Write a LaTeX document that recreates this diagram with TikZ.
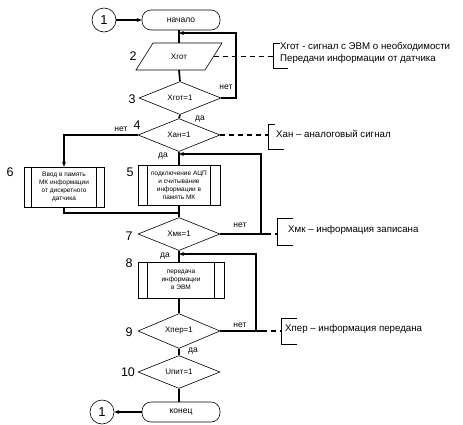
\documentclass[tikz,border=0pt]{standalone}
\usepackage{fontspec}
\setmainfont{Liberation Sans}
\usetikzlibrary{shapes.geometric,arrows.meta}
\begin{document}
\begin{tikzpicture}[x=1pt,y=-1pt,
  conn/.style={line width=1.7pt},
  arr/.style={conn,-{Stealth[length=5pt,width=4pt]}},
  dsh/.style={line width=1.3pt,dash pattern=on 5pt off 4pt},
  thin/.style={line width=0.6pt},
  term/.style={draw,thin,rounded corners=9pt,minimum width=78pt,minimum height=20pt,inner sep=0pt,font=\fontsize{8.5}{9}\selectfont},
  dec/.style={draw,thin,diamond,minimum width=82pt,minimum height=33pt,inner sep=0pt,font=\fontsize{8}{9}\selectfont},
  proc/.style={draw,thin,minimum height=40pt,inner sep=0pt,align=center,font=\fontsize{6.5}{8}\selectfont},
  connc/.style={draw,circle,thin,minimum size=24pt,inner sep=0pt,font=\fontsize{13}{13}\selectfont},
  num/.style={font=\fontsize{12.5}{12.5}\selectfont,inner sep=0pt},
  lab/.style={font=\fontsize{8.5}{9}\selectfont,inner sep=0pt},
  note/.style={font=\fontsize{9.7}{11.5}\selectfont,anchor=west,align=left,inner sep=0pt},
]
\useasboundingbox (0,0) rectangle (463,424);

% nodes
\node[connc] (c1) at (104,20) {1};
\node[term] (start) at (181,20) {начало};
\coordinate (p2n) at (179,43);
\coordinate (p2s) at (179,70);
\coordinate (p2e) at (213.5,56.5);
\draw[thin] (136,70) -- (153,43) -- (222,43) -- (205,70) -- cycle;
\node[font=\fontsize{8}{9}\selectfont] (p2) at (179,56.5) {Xгот};
\node[dec] (d3) at (180,98) {Xгот=1};
\node[dec] (d4) at (179,135) {Xан=1};
\node[proc,minimum width=82pt] (b5) at (179,185) {подключение АЦП\\и считывание\\информации в\\память МК};
\node[proc,minimum width=80pt] (b6) at (64,187) {Ввод в память\\МК информации\\от дискретного\\датчика};
\node[dec] (d7) at (179,234) {Xмк=1};
\node[proc,minimum width=86pt,minimum height=36pt] (b8) at (181,280) {передача\\информации\\в ЭВМ};
\node[dec] (d9) at (179,331) {Xпер=1};
\node[dec,minimum height=31pt] (d10) at (179,372) {Uпит=1};
\node[term] (stop) at (181,412) {конец};
\node[connc] (c2) at (102,412) {1};

% inner lines of process boxes
\foreach \b/\o in {b5/10,b6/8,b8/10}{
  \draw[thin] ([xshift=\o pt]\b.north west) -- ([xshift=\o pt]\b.south west);
  \draw[thin] ([xshift=-\o pt]\b.north east) -- ([xshift=-\o pt]\b.south east);
}

% numbers
\node[num] at (133,56) {2};
\node[num] at (132,99) {3};
\node[num] at (137,125) {4};
\node[num] at (130,172) {5};
\node[num] at (10,172) {6};
\node[num] at (129,236) {7};
\node[num] at (129,263) {8};
\node[num] at (129,332) {9};
\node[num] at (128,372) {10};

% main connectors
\draw[arr] (c1) -- (start);
\draw[conn] (start.south -| p2n) -- (p2n);
\draw[conn] (p2s) -- (d3.north);
\draw[conn] (d3.south) -- (d4.north);
\draw[conn] (d4.south) -- (b5.north);
\draw[conn] (b5.south) -- (d7.north);
\draw[conn] (d7.south) -- (b8.north -| d7.south);
\draw[conn] (b8.south -| d9.north) -- (d9.north);
\draw[conn] (d9.south) -- (d10.north);
\draw[conn] (d10.south) -- (stop.north -| d10.south);
\draw[arr] (stop) -- (c2);

% loops
\coordinate (j1) at (179,33);
\draw[arr] (d3.east) -- (236,98) -- (236,33) -- (j1);
\draw[arr] (d4.west) -| (b6.north);
\draw[conn] (b6.south) -- (64,213) -- (179,213);
\coordinate (j2) at (179,154);
\draw[arr] (d7.east) -- (266,234) (261,234) -- (261,154) -- (j2);
\coordinate (j3) at (179,254);
\draw[arr] (d9.east) -- (262,331) (256,331) -- (256,254) -- (j3);

% labels
\node[lab] at (226,87) {нет};
\node[lab] at (200,119) {да};
\node[lab] at (121,129) {нет};
\node[lab] at (163,156) {да};
\node[lab] at (240,225) {нет};
\node[lab] at (165,256) {да};
\node[lab] at (240,325) {нет};
\node[lab] at (193,351) {да};

% notes
\coordinate (k1) at (273,56.5);
\draw[thin] (280,43) -- (273,43) -- (273,68) -- (288,68);
\node[note] (n1) at (280,53) {Xгот - сигнал с ЭВМ о необходимости\\Передачи информации от датчика};
\draw[dsh] (p2e) -- (k1);

\coordinate (k2) at (268,135);
\draw[thin] (275,124) -- (268,124) -- (268,149) -- (284,149);
\node[note] (n2) at (276,134) {Xан -- аналоговый сигнал};
\draw[dsh] (d4.east) -- (k2);

\coordinate (k3) at (277,234);
\draw[thin] (293,218) -- (277,218) -- (277,245) -- (293,245);
\node[note] (n3) at (288,230) {Xмк -- информация записана};
\draw[dsh] (266,234) -- (k3);

\coordinate (k4) at (281,331);
\draw[thin] (297,318) -- (281,318) -- (281,344) -- (297,344);
\node[note] (n4) at (285,329) {Xпер -- информация передана};
\draw[dsh] (262,331) -- (k4);
\end{tikzpicture}
\end{document}
